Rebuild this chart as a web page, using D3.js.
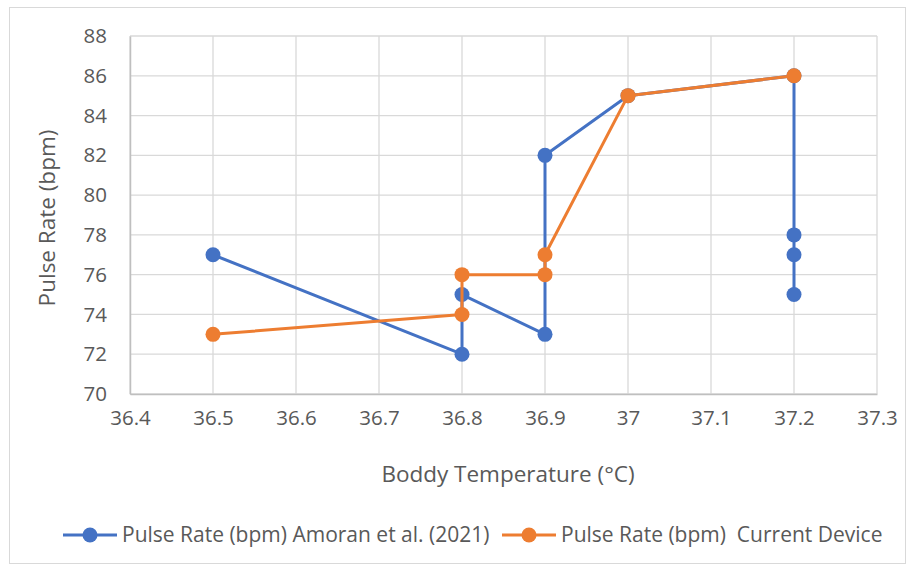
<!DOCTYPE html>
<html>
<head>
    <meta charset="utf-8">
    <title>Pulse Rate vs Body Temperature</title>
    <script src="https://cdn.jsdelivr.net/npm/d3@7"></script>
    <style>
        body { margin: 0; background: #fff; }
        text { font-family: "Open Sans", "Liberation Sans", sans-serif; fill: #595959; white-space: pre; }
    </style>
</head>
<body>
    <div id="chart"></div>
    <script>
        // data
        var amoranTemp  = [36.5, 36.8, 36.8, 36.9, 36.9, 37, 37.2, 37.2, 37.2, 37.2];
        var amoranPulse = [77,   72,   75,   73,   82,   85, 86,   78,   77,   75];
        var deviceTemp  = [36.5, 36.8, 36.8, 36.9, 36.9, 37, 37.2];
        var devicePulse = [73,   74,   76,   76,   77,   85, 86];
        var xTicks = [36.4, 36.5, 36.6, 36.7, 36.8, 36.9, 37, 37.1, 37.2, 37.3];
        var yTicks = [70, 72, 74, 76, 78, 80, 82, 84, 86, 88];
        var seriesNames = ["Pulse Rate (bpm) Amoran et al. (2021)", "Pulse Rate (bpm)  Current Device"];
        var seriesColors = ["#4472C4", "#ED7D31"];

        var width = 915, height = 571;
        var plotLeft = 130, plotRight = 877, plotTop = 36, plotBottom = 394;

        var svg = d3.select("#chart").append("svg")
            .attr("width", width)
            .attr("height", height);

        // chart frame
        svg.append("rect")
            .attr("x", 9.5).attr("y", 7.5)
            .attr("width", 896).attr("height", 556)
            .attr("fill", "none")
            .attr("stroke", "#D9D9D9");

        var x = d3.scaleLinear().domain([36.4, 37.3]).range([plotLeft, plotRight]);
        var y = d3.scaleLinear().domain([70, 88]).range([plotBottom, plotTop]);

        // grid
        svg.append("g").selectAll("line").data(yTicks).enter().append("line")
            .attr("x1", plotLeft).attr("x2", plotRight)
            .attr("y1", function(d){return y(d);}).attr("y2", function(d){return y(d);})
            .attr("stroke", "#D9D9D9").attr("stroke-width", 1.3);
        svg.append("g").selectAll("line").data(xTicks).enter().append("line")
            .attr("y1", plotTop).attr("y2", plotBottom)
            .attr("x1", function(d){return x(d);}).attr("x2", function(d){return x(d);})
            .attr("stroke", "#D9D9D9").attr("stroke-width", 1.3);

        // axes
        var xAxis = svg.append("g")
            .attr("transform", "translate(0," + plotBottom + ")")
            .call(d3.axisBottom(x).tickValues(xTicks).tickSize(0).tickPadding(16)
                .tickFormat(function(d){return String(+d.toFixed(1));}));
        xAxis.select(".domain").attr("stroke", "#BFBFBF").attr("stroke-width", 1.5);
        xAxis.selectAll("text").style("font-size", "20.5px").style("fill", "#595959")
            .style("font-family", "'Open Sans', sans-serif");

        var yAxis = svg.append("g")
            .attr("transform", "translate(" + plotLeft + ",0)")
            .call(d3.axisLeft(y).tickValues(yTicks).tickSize(0).tickPadding(23));
        yAxis.select(".domain").attr("stroke", "#BFBFBF").attr("stroke-width", 1.5);
        yAxis.selectAll("text").style("font-size", "20.5px").style("fill", "#595959")
            .style("font-family", "'Open Sans', sans-serif");

        // axis titles
        svg.append("text")
            .attr("x", 508).attr("y", 482)
            .attr("text-anchor", "middle")
            .style("font-size", "22.5px")
            .text("Boddy Temperature (°C)");
        svg.append("text")
            .attr("transform", "translate(55,218) rotate(-90)")
            .attr("text-anchor", "middle")
            .style("font-size", "22.5px")
            .text("Pulse Rate (bpm)");

        // series
        var series = [
            {t: amoranTemp, p: amoranPulse},
            {t: deviceTemp, p: devicePulse}
        ];
        var line = d3.line()
            .x(function(d){return x(d[0]);})
            .y(function(d){return y(d[1]);});

        series.forEach(function(s, i){
            var pts = s.t.map(function(t, j){return [t, s.p[j]];});
            var g = svg.append("g");
            g.append("path")
                .datum(pts)
                .attr("d", line)
                .attr("fill", "none")
                .attr("stroke", seriesColors[i])
                .attr("stroke-width", 3)
                .attr("stroke-linejoin", "round");
            g.selectAll("circle").data(pts).enter().append("circle")
                .attr("cx", function(d){return x(d[0]);})
                .attr("cy", function(d){return y(d[1]);})
                .attr("r", 7.5)
                .attr("fill", seriesColors[i]);
        });

        // legend
        var legendX = [63, 502];
        seriesNames.forEach(function(name, i){
            var lg = svg.append("g").attr("transform", "translate(" + legendX[i] + ",535)");
            lg.append("line").attr("x1", 0).attr("x2", 54).attr("y1", 0).attr("y2", 0)
                .attr("stroke", seriesColors[i]).attr("stroke-width", 3);
            lg.append("circle").attr("cx", 27).attr("cy", 0).attr("r", 7.5).attr("fill", seriesColors[i]);
            lg.append("text").attr("x", 59).attr("y", 0).attr("dy", "0.35em")
                .style("font-size", "21px")
                .text(name);
        });
    </script>
</body>
</html>
